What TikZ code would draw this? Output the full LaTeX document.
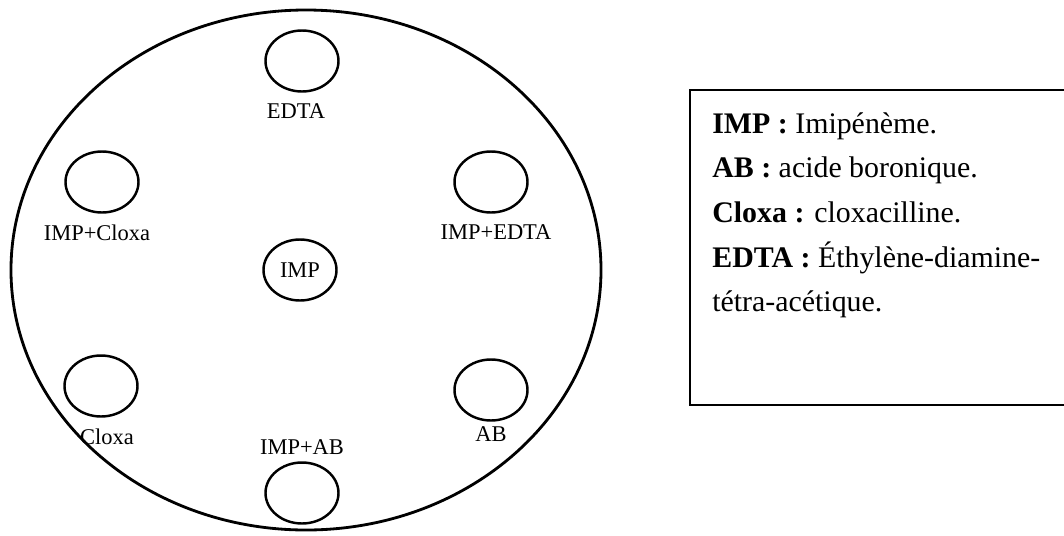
\documentclass[tikz,border=0pt]{standalone}
\usepackage{fontspec}
\setmainfont{Liberation Serif}
\usetikzlibrary{shapes.geometric,positioning}
\begin{document}
\begin{tikzpicture}[
	plate/.style={draw, ellipse, line width=1.6pt, minimum width=11.8cm, minimum height=10.4cm, inner sep=0pt},
	disc/.style={draw, ellipse, line width=1.4pt, minimum width=1.46cm, minimum height=1.22cm, inner sep=0pt, font=\fontsize{12.8}{15}\selectfont},
	lbl/.style={inner sep=0pt, font=\fontsize{12.8}{15}\selectfont},
	legend/.style={anchor=base west, inner sep=0pt, font=\fontsize{17}{20}\selectfont}]
	\useasboundingbox (-6.12,-5.3) rectangle (15.16,5.4);
	% plate and discs
	\node[plate] (plate) at (0,0) {};
	\node[disc] (edta) at (-0.08,4.18) {};
	\node[disc] (impcloxa) at (-4.08,1.76) {};
	\node[disc] (impedta) at (3.7,1.76) {};
	\node[disc] (imp) at (-0.12,0) {IMP};
	\node[disc] (cloxa) at (-4.1,-2.32) {};
	\node[disc] (ab) at (3.7,-2.4) {};
	\node[disc] (impab) at (-0.08,-4.46) {};
	% names of the discs
	\node[lbl, below=0.22cm of edta, xshift=-0.12cm] (edtat) {EDTA};
	\node[lbl, below=0.22cm of impcloxa, xshift=-0.1cm] (impcloxat) {IMP+Cloxa};
	\node[lbl, below=0.22cm of impedta, xshift=0.1cm] (impedtat) {IMP+EDTA};
	\node[lbl, below=0.22cm of cloxa, xshift=0.12cm] (cloxat) {Cloxa};
	\node[lbl, below=0.1cm of ab] (abt) {AB};
	\node[lbl, above=0.12cm of impab] (impabt) {IMP+AB};
	% legend
	\draw[line width=1.1pt] (7.68,3.6) rectangle (15.4,-2.7);
	\node[legend] (l1) at (8.12,2.74) {\textbf{IMP :} Imipénème.};
	\node[legend] (l2) at (8.12,1.86) {\textbf{AB :} acide boronique.};
	\node[legend] (l3) at (8.12,0.96) {\textbf{Cloxa :} cloxacilline.};
	\node[legend] (l4) at (8.12,0.06) {\textbf{EDTA :} Éthylène-diamine-};
	\node[legend] (l5) at (8.12,-0.82) {tétra-acétique.};
\end{tikzpicture}
\end{document}
